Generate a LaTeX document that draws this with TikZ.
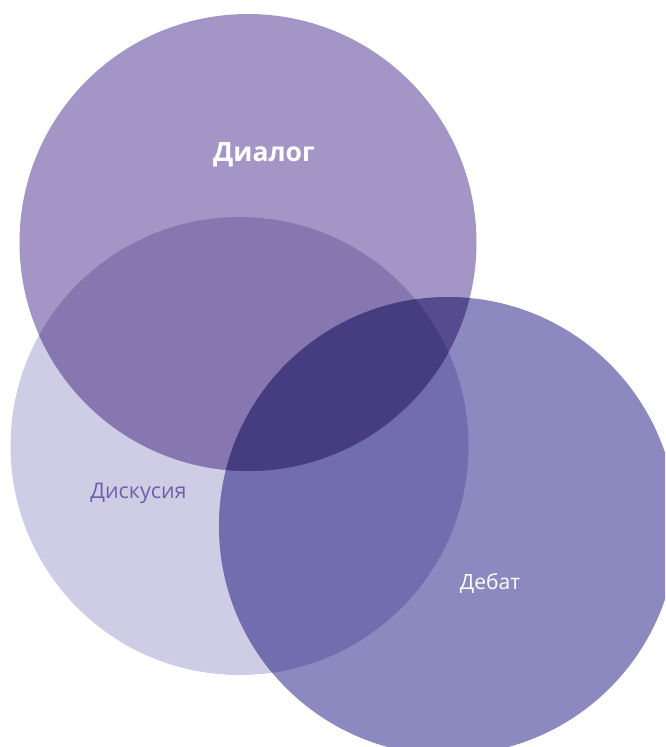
\documentclass[tikz,border=0pt]{standalone}
\usepackage{fontspec}
\setmainfont{Open Sans}
\definecolor{dlg}{HTML}{A396C7}
\definecolor{dsc}{HTML}{CFCDE6}
\definecolor{dbt}{HTML}{8C88C0}
\definecolor{dlgdsc}{HTML}{8677B0}
\definecolor{dbtdsc}{HTML}{716DAE}
\definecolor{dlgdbt}{HTML}{564B8E}
\definecolor{alls}{HTML}{463C80}
\definecolor{dsctext}{HTML}{6F5FAA}
\begin{document}
\begin{tikzpicture}[x=1pt,y=-1pt,
  lbl/.style={inner sep=0pt,anchor=center}]
\useasboundingbox (0,0) rectangle (665,747);
\clip (0,0) rectangle (665,747);
\def\CDlg{(248,242.5) circle[radius=228.5]}
\def\CDsc{(239.5,446) circle[radius=229]}
\def\CDbt{(448,526) circle[radius=229]}
\fill[dsc] \CDsc;
\fill[dlg] \CDlg;
\fill[dbt] \CDbt;
\begin{scope}\clip \CDlg; \fill[dlgdsc] \CDsc; \end{scope}
\begin{scope}\clip \CDbt; \fill[dbtdsc] \CDsc; \end{scope}
\begin{scope}\clip \CDbt; \fill[dlgdbt] \CDlg; \end{scope}
\begin{scope}\clip \CDbt; \clip \CDlg; \fill[alls] \CDsc; \end{scope}
\node[lbl,text=white,font=\fontsize{26.5}{30}\selectfont\bfseries] (dialog) at (264,155) {Диалог};
\node[lbl,text=dsctext,font=\fontsize{21.5}{25}\selectfont] (disc) at (138.5,493) {Дискусия};
\node[lbl,text=white,font=\fontsize{21}{25}\selectfont] (debate) at (490,583) {Дебат};
\end{tikzpicture}
\end{document}
